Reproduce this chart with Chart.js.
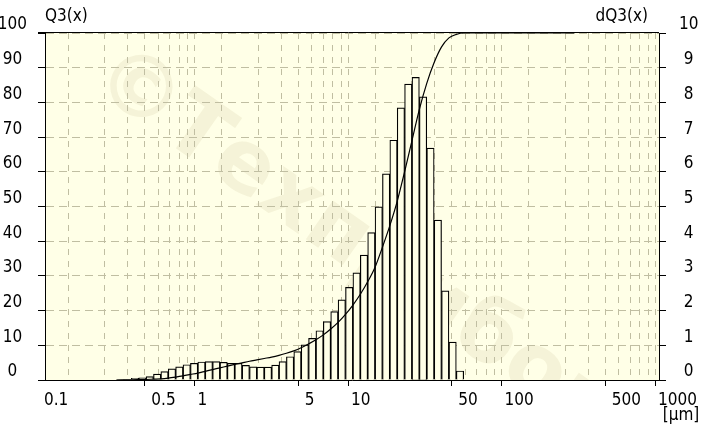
<!DOCTYPE html>
<html>
<head>
<meta charset="utf-8">
<script src="https://cdn.jsdelivr.net/npm/chart.js@4.4.1/dist/chart.umd.min.js"></script>
<style>
html,body{margin:0;padding:0;background:#ffffff;}
#wrap{width:706px;height:435px;}
</style>
</head>
<body>
<div id="wrap"><canvas id="c" width="706" height="435"></canvas></div>
<script>
// ---- data ----
// class (bin) boundaries, µm
const binEdges = [0.2925, 0.3268, 0.3651, 0.4078, 0.4556, 0.5089, 0.5685, 0.6351, 0.7095, 0.7931,
  0.8859, 0.9897, 1.106, 1.235, 1.380, 1.541, 1.722, 1.923, 2.149, 2.400,
  2.681, 2.996, 3.346, 3.738, 4.176, 4.665, 5.211, 5.822, 6.504, 7.265,
  8.116, 9.067, 10.14, 11.33, 12.65, 14.13, 15.79, 17.64, 19.70, 22.01,
  24.59, 27.47, 30.69, 34.30, 38.32, 42.80, 47.82, 53.42];
// dQ3 per class (right axis)
const dQ3 = [0.02, 0.02, 0.05, 0.06, 0.10, 0.17, 0.24, 0.32, 0.38, 0.44,
  0.48, 0.52, 0.53, 0.53, 0.51, 0.48, 0.48, 0.42, 0.38, 0.37,
  0.37, 0.43, 0.53, 0.67, 0.82, 1.01, 1.20, 1.42, 1.68, 1.97,
  2.31, 2.67, 3.09, 3.60, 4.25, 4.99, 5.94, 6.91, 7.84, 8.53,
  8.72, 8.16, 6.68, 4.61, 2.57, 1.09, 0.26];
// cumulative Q3 (left axis) at the class boundaries, plus end of measuring range
const q3Sizes = [0.2925, 0.3268, 0.3651, 0.4078, 0.4556, 0.5089, 0.5685, 0.6351, 0.7095, 0.7931,
  0.8859, 0.9897, 1.106, 1.235, 1.380, 1.541, 1.722, 1.923, 2.149, 2.400,
  2.681, 2.996, 3.346, 3.738, 4.176, 4.665, 5.211, 5.822, 6.504, 7.265,
  8.116, 9.067, 10.14, 11.33, 12.65, 14.13, 15.79, 17.64, 19.70, 22.01,
  24.59, 27.47, 30.69, 34.30, 38.32, 42.80, 47.82, 53.42, 281.4];
const Q3 = [0, 0.02, 0.04, 0.09, 0.15, 0.25, 0.35, 0.55, 0.85, 1.2,
  1.6, 2.0, 2.5, 3.0, 3.5, 4.0, 4.5, 4.95, 5.4, 5.8,
  6.2, 6.6, 7.1, 7.7, 8.4, 9.3, 10.4, 11.6, 13.0, 14.7,
  16.6, 18.9, 21.6, 24.7, 28.3, 32.5, 38.3, 44.5, 51.5, 60,
  69, 78, 85.5, 91.5, 96, 98.6, 99.6, 100, 100];

// axis ticks
const xGridValues = [0.1, 0.2, 0.3, 0.4, 0.5, 0.6, 0.7, 0.8, 0.9,
  1, 2, 3, 4, 5, 6, 7, 8, 9,
  10, 20, 30, 40, 50, 60, 70, 80, 90,
  100, 200, 300, 400, 500, 600, 700, 800, 900, 1000];
const xLabelValues = [0.1, 0.5, 1, 5, 10, 50, 100, 500, 1000];
const xLabelTexts = ['0.1', '0.5', '1', '5', '10', '50', '100', '500', '1000'];
const leftTicks = [0, 10, 20, 30, 40, 50, 60, 70, 80, 90, 100];
const rightTicks = [0, 1, 2, 3, 4, 5, 6, 7, 8, 9, 10];

const leftTitle = 'Q3(x)';
const rightTitle = 'dQ3(x)';
const xUnit = '[µm]';
const watermark = '©Техприбор';

// ---- styles ----
const FONT = "'Liberation Sans Narrow', 'DejaVu Sans Condensed', 'Arial Narrow', sans-serif";
const plotBg = '#FFFFE7';
const gridColor = '#c0bea2';

function labelIndex(v) {
  if (v === undefined || v === null) return -1;
  for (let i = 0; i < xLabelValues.length; i++) {
    if (Math.abs(Math.log10(v) - Math.log10(xLabelValues[i])) < 1e-6) return i;
  }
  return -1;
}

const decor = {
  id: 'decor',
  beforeDraw(chart) {
    const {ctx, chartArea: a} = chart;
    ctx.save();
    ctx.fillStyle = plotBg;
    ctx.fillRect(a.left, a.top, a.right - a.left, a.bottom - a.top);
    ctx.beginPath();
    ctx.rect(a.left, a.top, a.right - a.left, a.bottom - a.top);
    ctx.clip();
    const cx = a.left + (a.right - a.left) * 0.505;
    const cy = a.top + (a.bottom - a.top) * 0.615;
    ctx.translate(cx, cy);
    ctx.rotate(35 * Math.PI / 180);
    ctx.font = "bold 86px 'DejaVu Sans', sans-serif";
    ctx.fillStyle = 'rgba(170,160,110,0.12)';
    ctx.textAlign = 'center';
    ctx.textBaseline = 'middle';
    ctx.fillText(watermark, 0, 0);
    ctx.restore();
  },
  afterDraw(chart) {
    const {ctx, chartArea: a} = chart;
    ctx.save();
    // top frame line of the plot area
    ctx.strokeStyle = '#000';
    ctx.lineWidth = 1;
    ctx.beginPath();
    ctx.moveTo(a.left - 7, a.top - 0.5);
    ctx.lineTo(a.right, a.top - 0.5);
    ctx.stroke();
    ctx.fillStyle = '#000';
    ctx.font = "17px " + FONT;
    ctx.textBaseline = 'middle';
    ctx.textAlign = 'left';
    ctx.fillText(leftTitle, a.left, a.top - 16);
    ctx.textAlign = 'right';
    ctx.fillText(rightTitle, a.right - 11, a.top - 16);
    ctx.textAlign = 'center';
    ctx.fillText(xUnit, a.right + 22, a.bottom + 36);
    ctx.restore();
  }
};

const tickFont = {family: FONT, size: 17};

new Chart(document.getElementById('c'), {
  data: {
    datasets: [
      {
        type: 'line',
        label: leftTitle,
        data: q3Sizes.map((x, i) => ({x: x, y: Q3[i]})),
        yAxisID: 'y',
        borderColor: '#000',
        borderWidth: 1.2,
        pointRadius: 0,
        cubicInterpolationMode: 'monotone',
        fill: false,
        order: 0,
        clip: 2
      },
      {
        type: 'bar',
        label: rightTitle,
        data: dQ3.map((v, i) => ({x: Math.sqrt(binEdges[i] * binEdges[i + 1]), y: v})),
        yAxisID: 'y2',
        backgroundColor: plotBg,
        borderColor: '#000',
        borderWidth: 1.2,
        borderSkipped: 'start',
        barThickness: 'flex',
        categoryPercentage: 1,
        barPercentage: 1,
        order: 1
      }
    ]
  },
  options: {
    responsive: false,
    animation: false,
    devicePixelRatio: 1,
    layout: {padding: {top: 33, left: 0, right: 0, bottom: 0}},
    plugins: {legend: {display: false}, tooltip: {enabled: false}},
    scales: {
      x: {
        type: 'logarithmic',
        position: 'bottom',
        min: 0.1,
        max: 1000,
        afterBuildTicks: s => { s.ticks = xGridValues.map(v => ({value: v})); },
        afterFit: s => { s.height = 55; },
        grid: {
          color: gridColor,
          lineWidth: 1,
          tickLength: 6,
          tickWidth: 1,
          tickColor: c => (c.tick && labelIndex(c.tick.value) >= 0 ? '#000' : 'rgba(0,0,0,0)'),
          tickBorderDash: []
        },
        border: {display: true, color: '#000', width: 1, dash: [6, 6]},
        ticks: {
          autoSkip: false, maxRotation: 0, minRotation: 0,
          align: 'start', padding: 4, labelOffset: -1,
          color: '#000', font: tickFont,
          callback: v => { const i = labelIndex(v); return i >= 0 ? xLabelTexts[i] : ''; }
        }
      },
      y: {
        position: 'left',
        min: 0, max: 100,
        afterBuildTicks: s => { s.ticks = leftTicks.map(v => ({value: v})); },
        afterFit: s => { s.width = 45; },
        grid: {color: gridColor, lineWidth: 1, tickLength: 7, tickColor: '#000', tickBorderDash: []},
        border: {display: true, color: '#000', width: 1, dash: [8, 5]},
        ticks: {crossAlign: 'center', padding: 11, labelOffset: -8, color: '#000', font: tickFont}
      },
      y2: {
        position: 'right',
        min: 0, max: 10,
        afterBuildTicks: s => { s.ticks = rightTicks.map(v => ({value: v})); },
        afterFit: s => { s.width = 47; },
        grid: {drawOnChartArea: false, tickLength: 7, tickColor: '#000', tickBorderDash: []},
        border: {display: true, color: '#000', width: 1},
        ticks: {crossAlign: 'center', padding: 13, labelOffset: -8, color: '#000', font: tickFont}
      }
    }
  },
  plugins: [decor]
});
</script>
</body>
</html>
